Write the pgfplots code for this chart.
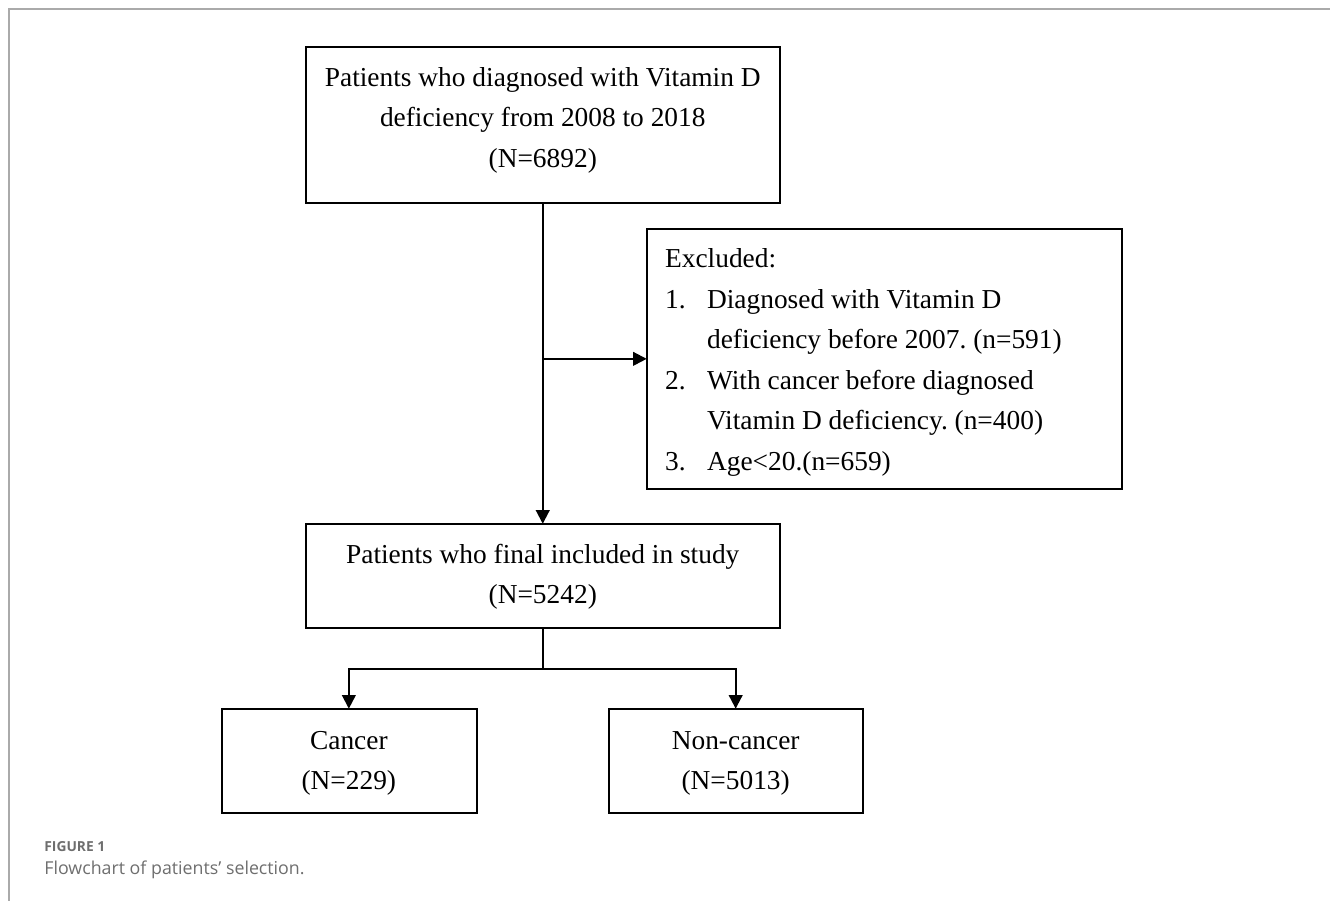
\documentclass[border=0pt]{standalone}
\usepackage{fontspec}
\setmainfont{Liberation Serif}
\newfontfamily\capfont{Open Sans}
\usepackage{pgfplots}
\pgfplotsset{compat=1.18}
\usetikzlibrary{arrows.meta}
\definecolor{framegray}{HTML}{AAAAAA}
\definecolor{capgray}{HTML}{6E6E6E}
\frenchspacing
\begin{document}
\begin{tikzpicture}
\begin{axis}[
  scale only axis, width=665.5pt, height=450.5pt,
  xmin=0, xmax=1331, ymin=0, ymax=901, y dir=reverse,
  axis lines=none, clip=false,
  every axis plot/.append style={mark=none},
]
% page extent
\path (axis cs:0,0) rectangle (axis cs:1331,901);
% frame lines
\addplot[framegray, line width=0.6pt] coordinates {(9,901) (9,9) (1331,9)};
% boxes
\addplot[black, line width=1pt] coordinates {(306,47) (780,47) (780,203) (306,203)} --cycle;
\addplot[black, line width=1pt] coordinates {(647,229) (1122,229) (1122,489) (647,489)} --cycle;
\addplot[black, line width=1pt] coordinates {(306,524) (780,524) (780,628) (306,628)} --cycle;
\addplot[black, line width=1pt] coordinates {(222,709) (477,709) (477,813) (222,813)} --cycle;
\addplot[black, line width=1pt] coordinates {(609,709) (863,709) (863,813) (609,813)} --cycle;
% connectors
\addplot[black, line width=1pt, -{Triangle[length=6.8pt,width=6.8pt]}] coordinates {(543,203) (543,524)};
\addplot[black, line width=1pt, -{Triangle[length=6.8pt,width=6.8pt]}] coordinates {(543,359) (647,359)};
\addplot[black, line width=1pt] coordinates {(543,628) (543,669)};
\addplot[black, line width=1pt, -{Triangle[length=6.8pt,width=6.8pt]}] coordinates {(543,669) (349,669) (349,709)};
\addplot[black, line width=1pt, -{Triangle[length=6.8pt,width=6.8pt]}] coordinates {(543,669) (736,669) (736,709)};
% texts
\begin{scope}[every node/.style={inner sep=0pt, font=\fontsize{13.7}{16}\selectfont}]
\node[anchor=base] at (axis cs:543,87) {Patients who diagnosed with Vitamin D};
\node[anchor=base] at (axis cs:543,127) {deficiency from 2008 to 2018};
\node[anchor=base] at (axis cs:543,168) {(N=6892)};
\node[anchor=base west] at (axis cs:665,268) {Excluded:};
\node[anchor=base west] at (axis cs:665,309) {1.};
\node[anchor=base west] at (axis cs:707,309) {Diagnosed with Vitamin D};
\node[anchor=base west] at (axis cs:707,349) {deficiency before 2007. (n=591)};
\node[anchor=base west] at (axis cs:665,390) {2.};
\node[anchor=base west] at (axis cs:707,390) {With cancer before diagnosed};
\node[anchor=base west] at (axis cs:707,430) {Vitamin D deficiency. (n=400)};
\node[anchor=base west] at (axis cs:665,471) {3.};
\node[anchor=base west] at (axis cs:707,471) {Age<20.(n=659)};
\node[anchor=base] at (axis cs:543,564) {Patients who final included in study};
\node[anchor=base] at (axis cs:543,604) {(N=5242)};
\node[anchor=base] at (axis cs:349,750) {Cancer};
\node[anchor=base] at (axis cs:349,790) {(N=229)};
\node[anchor=base] at (axis cs:736,750) {Non-cancer};
\node[anchor=base] at (axis cs:736,790) {(N=5013)};
\end{scope}
\node[anchor=base west, inner sep=0pt, text=capgray, font=\capfont\fontsize{6.9}{8}\selectfont\bfseries] at (axis cs:44,852) {FIGURE 1};
\node[anchor=base west, inner sep=0pt, text=capgray, font=\capfont\fontsize{8.9}{10}\selectfont] at (axis cs:44,875) {Flowchart of patients’ selection.};
\end{axis}
\end{tikzpicture}
\end{document}
